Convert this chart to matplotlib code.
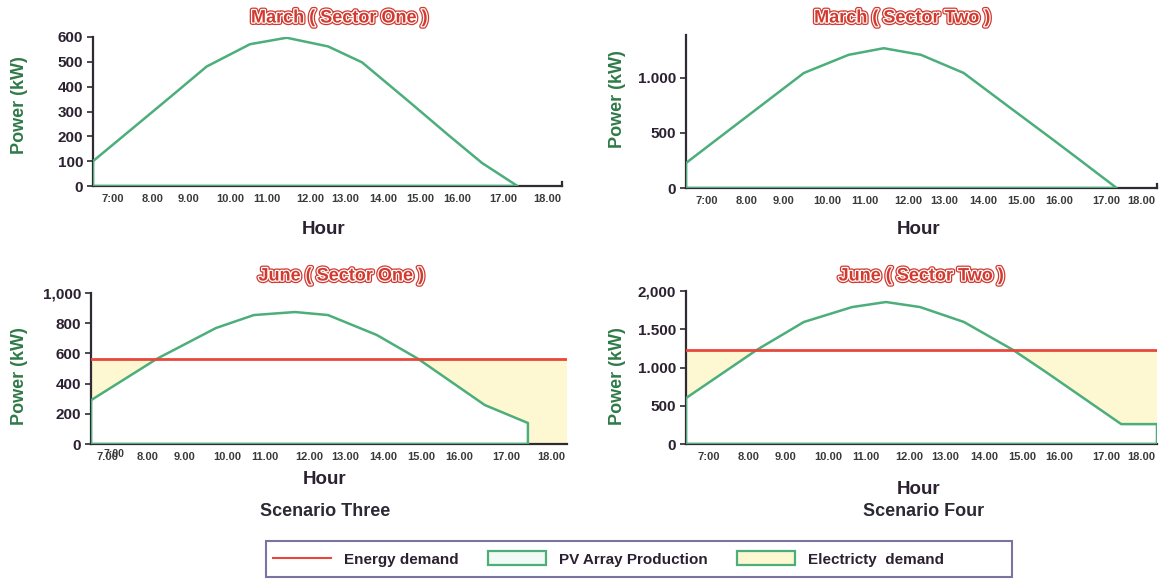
import matplotlib
matplotlib.use('Agg')
import matplotlib.pyplot as plt
import matplotlib.patheffects as pe
from matplotlib.lines import Line2D
from matplotlib.patches import Patch, Rectangle
import numpy as np

plt.rcParams['font.family'] = ['Liberation Sans', 'DejaVu Sans']

# ---------------- data ----------------
hour_labels = ['7:00', '8.00', '9.00', '10.00', '11.00', '12.00', '13.00',
               '14.00', '15.00', '16.00', '17.00', '18.00']
hour_labels_june1 = ['7.00', '8.00', '9.00', '10.00', '11.00', '12.00', '13.00',
                     '14.00', '15.00', '16.00', '17.00', '18.00']

march1_hours = [6.49, 7.5, 8.5, 9.37, 10.47, 11.40, 12.45, 13.31, 14.5, 15.5, 16.35, 17.25]
march1_pv = [100, 233, 365, 481, 571, 597, 562, 498, 340, 205, 93, 0]

march2_hours = [6.48, 7.5, 8.5, 9.40, 10.51, 11.38, 12.30, 13.36, 14.5, 15.5, 16.14, 17.15]
march2_pv = [227, 513, 793, 1045, 1210, 1270, 1210, 1045, 732, 459, 282, 0]

june1_hours = [6.58, 8.22, 9.68, 10.62, 11.64, 12.46, 13.67, 14.69, 16.35, 17.42, 17.42]
june1_pv = [290, 565, 768, 854, 874, 854, 722, 565, 258, 139, 0]
june1_demand = 565

june2_hours = [6.43, 8.19, 9.36, 10.56, 11.40, 12.25, 13.34, 14.56, 15.38, 17.25, 18.14, 18.14]
june2_pv = [600, 1230, 1595, 1790, 1856, 1790, 1595, 1230, 940, 260, 260, 0]
june2_demand = 1230

titles = ['March ( Sector One )', 'March ( Sector Two )',
          'June ( Sector One )', 'June ( Sector Two )']
scenario_labels = ['Scenario Three', 'Scenario Four']
legend_labels = ['Energy demand', 'PV Array Production', 'Electricty  demand']

# ---------------- style ----------------
W, H = 1159, 579
GREEN = '#4cae7a'
RED = '#e8473b'
YELLOW = '#fdf7d2'
DARK = '#2f2a33'
TITLE_RED = '#d23a30'
YLAB_GREEN = '#2f7a48'

tick_pos_left = [7.0, 7.99, 8.90, 9.97, 10.90, 11.99, 12.88, 13.84, 14.78, 15.72, 16.89, 18.0]
tick_pos_right = [7.0, 7.99, 8.90, 9.97, 10.90, 11.99, 12.88, 13.84, 14.78, 15.72, 16.89, 17.76]

fig = plt.figure(figsize=(W / 100, H / 100), dpi=100)
fig.patch.set_facecolor('white')


def px_axes(l, r, top, bottom):
    return fig.add_axes([l / W, 1 - bottom / H, (r - l) / W, (bottom - top) / H])


def style_axes(ax, xlim, ylim, yticks, ylabels, xticks, xlabels, right_tick=None):
    ax.set_xlim(*xlim)
    ax.set_ylim(*ylim)
    ax.set_facecolor('none')
    for s in ['top', 'right']:
        ax.spines[s].set_visible(False)
    for s in ['left', 'bottom']:
        ax.spines[s].set_color(DARK)
        ax.spines[s].set_linewidth(1.6)
    if right_tick is not None:
        ax.spines['right'].set_visible(True)
        ax.spines['right'].set_bounds(0, right_tick)
        ax.spines['right'].set_color(DARK)
        ax.spines['right'].set_linewidth(1.6)
    ax.set_yticks(yticks)
    ax.set_yticklabels(ylabels)
    ax.set_xticks(xticks)
    ax.set_xticklabels(xlabels)
    ax.tick_params(axis='y', length=4, width=1.2, color=DARK, pad=3,
                   labelsize=11, labelcolor='#2b2130')
    ax.tick_params(axis='x', length=0, pad=6, labelsize=8, labelcolor='#3a3a3a')
    for t in ax.get_yticklabels() + ax.get_xticklabels():
        t.set_fontweight('bold')


def draw_pv(ax, hours, pv):
    ax.fill_between(hours, 0, pv, facecolor='none', edgecolor=GREEN,
                    linewidth=1.8, zorder=3)


def draw_demand(ax, hours, pv, demand, xright):
    hx = list(hours) + ([xright] if hours[-1] < xright else [])
    hp = list(pv) + ([0] if hours[-1] < xright else [])
    hp = np.array(hp, dtype=float)
    ax.fill_between(hx, np.minimum(hp, demand), demand, facecolor=YELLOW,
                    edgecolor='none', zorder=1)
    ax.axhline(demand, color=RED, linewidth=2, zorder=4)


# Top-left: March sector one
ax1 = px_axes(93, 562, 37, 186)
style_axes(ax1, (6.49, 18.38), (0, 600), range(0, 601, 100),
           [str(v) for v in range(0, 601, 100)], tick_pos_left, hour_labels, right_tick=18)
draw_pv(ax1, march1_hours, march1_pv)

# Top-right: March sector two
ax2 = px_axes(686, 1157, 35, 188)
style_axes(ax2, (6.48, 18.15), (0, 1390), [0, 500, 1000], ['0', '500', '1.000'],
           tick_pos_right, hour_labels, right_tick=40)
draw_pv(ax2, march2_hours, march2_pv)

# Bottom-left: June sector one
ax3 = px_axes(91, 567, 293, 444)
style_axes(ax3, (6.58, 18.39), (0, 1000), range(0, 1001, 200),
           ['0', '200', '400', '600', '800', '1,000'], tick_pos_left, hour_labels_june1)
draw_demand(ax3, june1_hours, june1_pv, june1_demand, 18.39)
draw_pv(ax3, june1_hours, june1_pv)
ax3.annotate('7:00', xy=(tick_pos_left[0], 0), xycoords='data', xytext=(4, -7),
             textcoords='offset points', ha='center', va='center',
             fontsize=7.5, fontweight='bold', color='#3a3a3a', annotation_clip=False)

# Bottom-right: June sector two
ax4 = px_axes(686, 1157, 291, 444)
style_axes(ax4, (6.43, 18.14), (0, 2000), [0, 500, 1000, 1500, 2000],
           ['0', '500', '1.000', '1.500', '2,000'], tick_pos_right, hour_labels)
draw_demand(ax4, june2_hours, june2_pv, june2_demand, 18.14)
draw_pv(ax4, june2_hours, june2_pv)

# ---------------- texts ----------------
title_fx = [pe.Stroke(linewidth=3.6, foreground=TITLE_RED),
            pe.Stroke(linewidth=1.8, foreground='white'), pe.Normal()]
for (cx, cy), t in zip([(339, 18), (902, 18), (341, 276), (921, 276)], titles):
    fig.text(cx / W, 1 - cy / H, t, ha='center', va='center', fontsize=13,
             fontweight='bold', color=TITLE_RED, path_effects=title_fx)

for cx, cy in [(324, 230), (919, 230), (325, 480), (919, 489)]:
    fig.text(cx / W, 1 - cy / H, 'Hour', ha='center', va='center', fontsize=13.5,
             fontweight='bold', color='#2b2130')

for cx, cy in [(19.5, 105), (618, 99), (19.5, 376), (618, 376)]:
    fig.text(cx / W, 1 - cy / H, 'Power (kW)', ha='center', va='center', rotation=90,
             fontsize=13, fontweight='bold', color=YLAB_GREEN)

for (cx, cy), t in zip([(325, 512), (924, 512)], scenario_labels):
    fig.text(cx / W, 1 - cy / H, t, ha='center', va='center', fontsize=13,
             fontweight='bold', color='#2a2a35')

# ---------------- legend ----------------
fig.add_artist(Rectangle((266 / W, 1 - 577 / H), 746 / W, 36 / H,
                         transform=fig.transFigure, fill=False,
                         edgecolor='#7d72a0', linewidth=1.5))
handles = [Line2D([], [], color=RED, linewidth=1.5),
           Patch(facecolor='#f2faf5', edgecolor=GREEN, linewidth=1.6),
           Patch(facecolor=YELLOW, edgecolor=GREEN, linewidth=1.6)]
leg = fig.legend(handles, legend_labels, loc='center left',
                 bbox_to_anchor=(273 / W, 1 - 559 / H), borderaxespad=0, borderpad=0,
                 ncol=3, handlelength=3.8, handleheight=1.0, columnspacing=1.9,
                 handletextpad=0.85, frameon=False,
                 prop={'weight': 'bold', 'size': 11})
for t in leg.get_texts():
    t.set_color('#2b2130')

fig.savefig('out.png', dpi=100, facecolor='white')
